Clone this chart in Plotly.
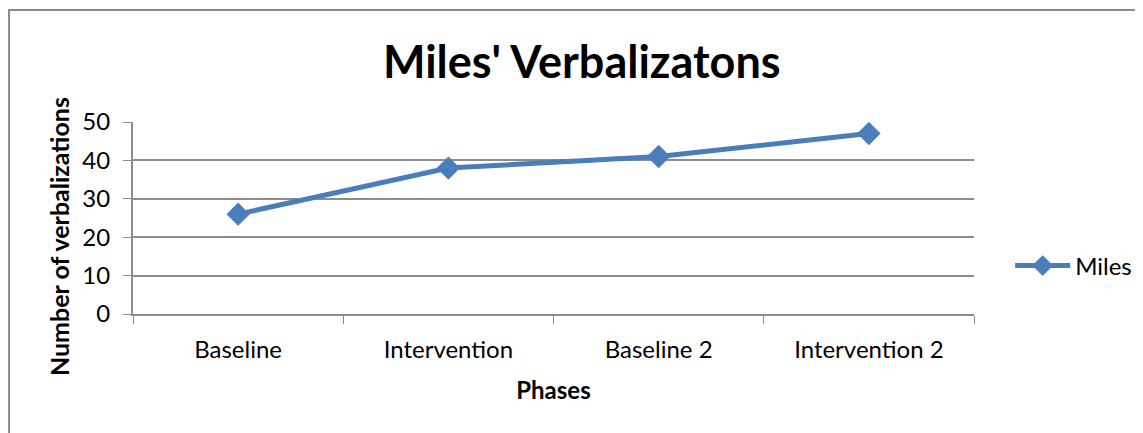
import plotly.graph_objects as go

# data
phases = ["Baseline", "Intervention", "Baseline 2", "Intervention 2"]
miles = [26, 38, 41, 47]
y_ticks = [0, 10, 20, 30, 40, 50]

FONT = "Lato, Calibri, 'Open Sans', sans-serif"
BLUE = "#4A7EBB"
GRID = "#8C8C8C"

# page body adds an 8px offset, so margins are trimmed to match
fig = go.Figure()
fig.add_trace(go.Scatter(
    x=phases,
    y=miles,
    mode="lines+markers",
    name="Miles",
    line=dict(color=BLUE, width=5),
    marker=dict(symbol="diamond", size=18, color=BLUE),
))

fig.update_layout(
    width=1143,
    height=433,
    margin=dict(l=125, r=177, t=114, b=127),
    paper_bgcolor="white",
    plot_bgcolor="white",
    font=dict(family=FONT, size=24, color="black"),
    title=dict(
        text="<b>Miles' Verbalizatons</b>",
        font=dict(family=FONT, size=45, color="black"),
        x=0.502, xanchor="center",
        y=0.875, yanchor="middle",
    ),
    showlegend=True,
    legend=dict(
        x=1.043, xanchor="left",
        y=0.25, yanchor="middle",
        font=dict(family=FONT, size=24),
        bgcolor="rgba(0,0,0,0)",
        itemwidth=55,
    ),
    xaxis=dict(
        type="category",
        range=[-0.5, 3.5],
        tickson="boundaries",
        ticks="outside",
        ticklen=8,
        tickcolor=GRID,
        showline=True,
        linecolor=GRID,
        linewidth=2,
        showgrid=False,
        ticklabelstandoff=13,
        title=dict(text="<b>Phases</b>", font=dict(family=FONT, size=24), standoff=20),
    ),
    yaxis=dict(
        range=[0, 50],
        tickvals=y_ticks,
        ticks="outside",
        ticklen=8,
        tickcolor=GRID,
        showline=True,
        linecolor=GRID,
        linewidth=2,
        showgrid=True,
        gridcolor=GRID,
        gridwidth=2,
        zeroline=False,
        ticklabelstandoff=8,
    ),
    annotations=[dict(
        text="<b>Number of verbalizations</b>",
        xref="paper", yref="paper",
        x=-0.088, y=0.406,
        xanchor="center", yanchor="middle",
        textangle=-90,
        showarrow=False,
        font=dict(family=FONT, size=25, color="black"),
    )],
)

# outer chart-area border (right and bottom edges fall outside the picture)
fig.add_shape(
    type="rect", xref="paper", yref="paper",
    x0=-0.1474, x1=1.25, y0=-0.7, y1=1.583,
    line=dict(color="#8C8C8C", width=2),
    fillcolor="rgba(0,0,0,0)",
    layer="below",
)

fig.write_html("out.html")
